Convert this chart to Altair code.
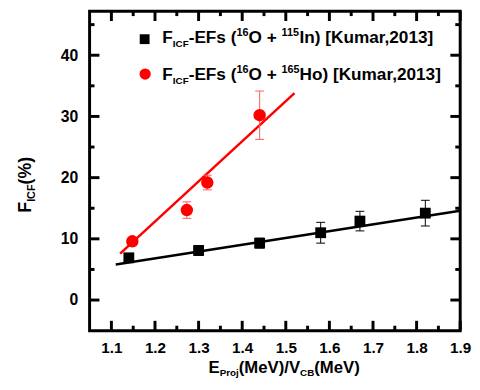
import altair as alt
import pandas as pd

# ---------------- data ----------------
in_x = [1.14, 1.30, 1.44, 1.58, 1.67, 1.82]
in_y = [6.9, 8.1, 9.3, 11.0, 12.9, 14.2]
in_err = [0.5, 0.8, 0.8, 1.7, 1.6, 2.1]

ho_x = [1.148, 1.273, 1.32, 1.44]
ho_y = [9.6, 14.7, 19.2, 30.2]
ho_err = [0.6, 1.35, 1.2, 3.95]

# linear-fit lines (end points)
in_fit_x = [1.11, 1.90]
in_fit_y = [5.8, 14.6]
ho_fit_x = [1.12, 1.52]
ho_fit_y = [7.6, 33.8]

x_major = [1.1, 1.2, 1.3, 1.4, 1.5, 1.6, 1.7, 1.8, 1.9]
x_minor = [1.15, 1.25, 1.35, 1.45, 1.55, 1.65, 1.75, 1.85]
y_major = [0, 10, 20, 30, 40]
y_minor = [5, 15, 25, 35, 45]

# ---------------- layout ----------------
W, H = 377, 325
FONT = "Liberation Sans"

xs = alt.Scale(domain=[1.05, 1.90], nice=False, zero=False)
ys = alt.Scale(domain=[-5, 47.2], nice=False, zero=False)

xaxis = alt.Axis(values=x_major, format=".1f", labelFontSize=15.5, labelFontWeight="bold",
                 labelFont=FONT, labelColor="black", domain=False, ticks=False, tickSize=0,
                 grid=False, title=None, labelPadding=10, labelFlush=False)
yaxis = alt.Axis(values=y_major, format="d", labelFontSize=16, labelFontWeight="bold",
                 labelFont=FONT, labelColor="black", domain=False, ticks=False, tickSize=0,
                 grid=False, title=None, labelPadding=12)


def X(f):
    return alt.X(f, type="quantitative", scale=xs, axis=xaxis)


def Y(f):
    return alt.Y(f, type="quantitative", scale=ys, axis=yaxis)


layers = []

# inward ticks on all four sides
for vals, L in ((x_major, 10), (x_minor, 5)):
    d = pd.DataFrame({"v": vals})
    layers.append(alt.Chart(d).mark_rule(color="black", strokeWidth=3).encode(
        x=X("v"), y=alt.value(H), y2=alt.value(H - L)))
    layers.append(alt.Chart(d).mark_rule(color="black", strokeWidth=3).encode(
        x=X("v"), y=alt.value(0), y2=alt.value(L)))
for vals, L in ((y_major, 10), (y_minor, 5)):
    d = pd.DataFrame({"v": vals})
    layers.append(alt.Chart(d).mark_rule(color="black", strokeWidth=3).encode(
        y=Y("v"), x=alt.value(0), x2=alt.value(L)))
    layers.append(alt.Chart(d).mark_rule(color="black", strokeWidth=3).encode(
        y=Y("v"), x=alt.value(W), x2=alt.value(W - L)))

# fit lines
fit_in = pd.DataFrame({"x": in_fit_x, "y": in_fit_y})
fit_ho = pd.DataFrame({"x": ho_fit_x, "y": ho_fit_y})
layers.append(alt.Chart(fit_in).mark_line(color="black", strokeWidth=2.5).encode(x=X("x"), y=Y("y")))
layers.append(alt.Chart(fit_ho).mark_line(color="#ff0000", strokeWidth=2.5).encode(x=X("x"), y=Y("y")))

# error bars
din = pd.DataFrame({"x": in_x, "y": in_y, "e": in_err})
din["lo"] = din["y"] - din["e"]
din["hi"] = din["y"] + din["e"]
dho = pd.DataFrame({"x": ho_x, "y": ho_y, "e": ho_err})
dho["lo"] = dho["y"] - dho["e"]
dho["hi"] = dho["y"] + dho["e"]

for d, col in ((din, "black"), (dho, "#ff5a5a")):
    layers.append(alt.Chart(d).mark_rule(color=col, strokeWidth=1).encode(
        x=X("x"), y=Y("lo"), y2="hi"))
    for f in ("lo", "hi"):
        layers.append(alt.Chart(d).mark_tick(color=col, thickness=1, size=9,
                                             orient="horizontal", opacity=1).encode(x=X("x"), y=Y(f)))

# markers
layers.append(alt.Chart(din).mark_square(color="black", size=121, opacity=1).encode(x=X("x"), y=Y("y")))
layers.append(alt.Chart(dho).mark_circle(color="#ff0000", size=160, opacity=1).encode(x=X("x"), y=Y("y")))

# ---------------- rich text helpers ----------------
CW = {' ': 278, '(': 333, ')': 333, '-': 333, '+': 584, ',': 278, '.': 278, '/': 278,
      '[': 333, ']': 333, '%': 889, 'A': 722, 'B': 722, 'C': 722, 'E': 667, 'F': 611,
      'H': 722, 'I': 278, 'K': 722, 'M': 833, 'O': 778, 'P': 667, 'V': 667, 'a': 556,
      'e': 556, 'j': 278, 'm': 889, 'n': 611, 'o': 611, 'r': 389, 's': 556, 'u': 611}


def tw(s, fs):
    return sum(CW.get(c, 556) for c in s) * fs / 1000.0


one = pd.DataFrame({"a": [0]})


def rich(pieces, x0, y0, angle=0):
    out = []
    pos = 0.0
    for txt, fs, shift in pieces:
        if angle == 0:
            px, py = x0 + pos, y0 + shift
        else:
            px, py = x0 + shift, y0 - pos
        out.append(alt.Chart(one).mark_text(
            align="left", baseline="alphabetic", fontSize=fs, fontWeight="bold",
            font=FONT, color="black", angle=angle).encode(
            x=alt.value(px), y=alt.value(py), text=alt.value(txt)))
        pos += tw(txt, fs)
    return out


# legend
layers.append(alt.Chart(one).mark_square(color="black", size=100, opacity=1).encode(
    x=alt.value(56), y=alt.value(28.5)))
layers.append(alt.Chart(one).mark_circle(color="#ff0000", size=130, opacity=1).encode(
    x=alt.value(56.5), y=alt.value(64)))
layers += rich([("F", 17.5, 0), ("ICF", 10, 4), ("-EFs (", 17.5, 0), ("16", 11, -7.5),
                ("O + ", 17.5, 0), ("115", 11, -7.5), ("In) [Kumar,2013]", 17.5, 0)], 74, 32.5)
layers += rich([("F", 17.5, 0), ("ICF", 10, 4), ("-EFs (", 17.5, 0), ("16", 11, -7.5),
                ("O + ", 17.5, 0), ("165", 11, -7.5), ("Ho) [Kumar,2013]", 17.5, 0)], 74, 70.5)

# axis titles
layers += rich([("E", 17, 0), ("Proj", 10, 3.5), ("(MeV)/V", 17, 0), ("CB", 10, 3.5),
                ("(MeV)", 17, 0)], 121, 368)
layers += rich([("F", 18, 0), ("ICF", 11, 4), ("(%)", 18, 0)], -60, 205, angle=270)

chart = alt.layer(*layers).properties(
    width=W, height=H,
    autosize=alt.AutoSizeParams(type="none"),
    padding={"left": 83, "top": 0, "right": 12, "bottom": 48},
).configure_view(stroke="black", strokeWidth=3)

chart.save("out.html", embed_options={"renderer": "svg", "actions": False})
